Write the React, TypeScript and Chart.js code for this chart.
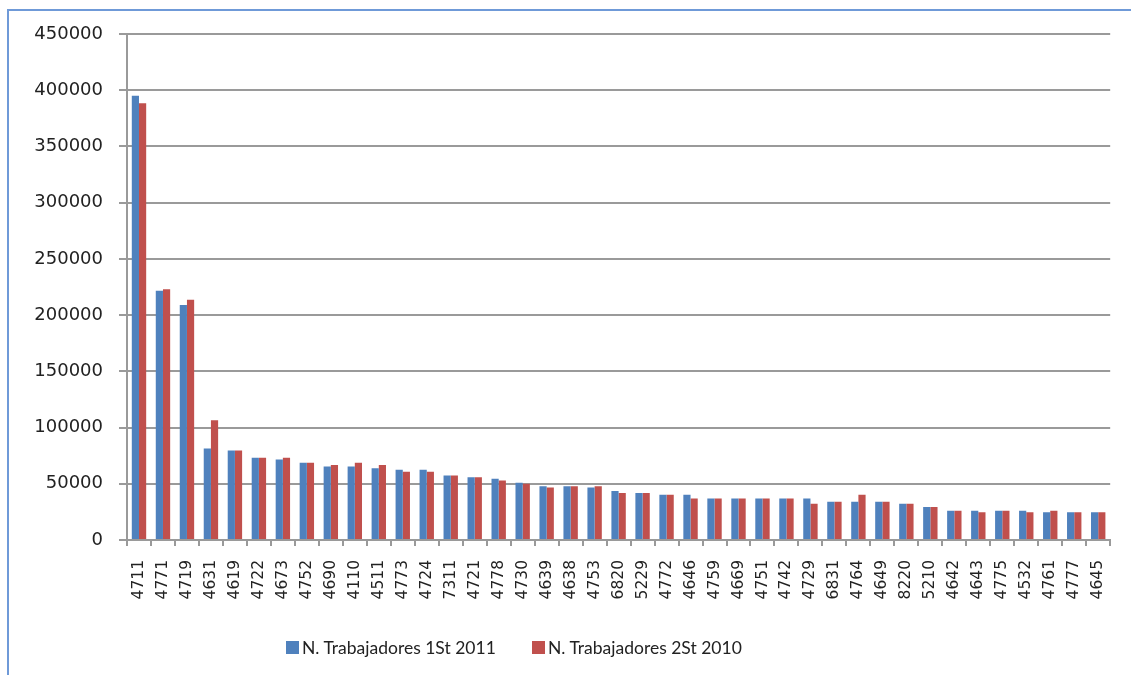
import React, { useEffect, useRef } from "react";
import { Chart, registerables } from "chart.js";

Chart.register(...registerables);

const categories = ["4711","4771","4719","4631","4619","4722","4673","4752","4690","4110","4511","4773","4724","7311","4721","4778","4730","4639","4638","4753","6820","5229","4772","4646","4759","4669","4751","4742","4729","6831","4764","4649","8220","5210","4642","4643","4775","4532","4761","4777","4645"];

const series2011 = [395000,221600,208900,81400,79600,73100,71600,68600,65400,65400,63900,62400,62400,57400,55900,54400,50900,47900,47900,46700,43500,41700,40200,40200,37000,37000,37000,37000,37000,34000,34000,34000,32200,29300,26000,26000,26000,26000,24600,24600,24600];

const series2010 = [388500,223100,213600,106500,79600,73100,73100,68600,66800,68600,66800,60600,60600,57400,55900,53000,50000,46700,47900,47900,41700,41700,40200,37000,37000,37000,37000,37000,32200,34000,40200,34000,32200,29300,26000,24600,26000,24600,26000,24600,24600];

const seriesNames = ["N. Trabajadores 1St 2011", "N. Trabajadores 2St 2010"];
const seriesColors = ["#4F81BD", "#C0504D"];

const yMin = 0;
const yMax = 450000;
const yStep = 50000;

export default function App() {
  const canvasRef = useRef<HTMLCanvasElement | null>(null);

  useEffect(() => {
    const canvas = canvasRef.current;
    if (!canvas) return;
    const chart = new Chart(canvas, {
      type: "bar",
      data: {
        labels: categories,
        datasets: [
          { label: seriesNames[0], data: series2011, backgroundColor: seriesColors[0], borderWidth: 0 },
          { label: seriesNames[1], data: series2010, backgroundColor: seriesColors[1], borderWidth: 0 },
        ],
      },
      options: {
        responsive: false,
        animation: false,
        devicePixelRatio: 1,
        layout: { padding: { top: 34, right: 16, left: 0, bottom: 0 } },
        datasets: { bar: { barPercentage: 1, categoryPercentage: 0.6 } },
        plugins: {
          legend: { display: false },
          tooltip: { enabled: false },
        },
        scales: {
          x: {
            offset: true,
            grid: {
              display: true,
              offset: true,
              drawOnChartArea: false,
              drawTicks: true,
              tickLength: 6,
              color: "#9a9a9a",
              lineWidth: 2,
            },
            border: { display: true, color: "#9a9a9a", width: 2 },
            ticks: {
              autoSkip: false,
              minRotation: 90,
              maxRotation: 90,
              padding: 14,
              color: "#222",
              font: { family: "'DejaVu Sans'", size: 15.5 },
            },
            afterFit: (scale: any) => {
              scale.height = 135;
            },
          },
          y: {
            min: yMin,
            max: yMax,
            grid: {
              color: "#9a9a9a",
              lineWidth: 2,
              drawTicks: true,
              tickLength: 8,
            },
            border: { display: true, color: "#9a9a9a", width: 2 },
            ticks: {
              stepSize: yStep,
              padding: 16,
              color: "#222",
              font: { family: "'DejaVu Sans'", size: 18 },
              callback: (v: any) => String(v),
            },
            afterFit: (scale: any) => {
              scale.width = 127;
            },
          },
        },
      },
    });
    return () => chart.destroy();
  }, []);

  const legendFont = "Lato, 'Open Sans', sans-serif";

  return (
    <div style={{ position: "fixed", left: 0, top: 0, width: 1131, height: 675, overflow: "hidden", background: "#fff" }}>
      <div
        style={{
          position: "absolute",
          left: 7,
          top: 9,
          width: 1300,
          height: 800,
          borderLeft: "2px solid #6f9ad8",
          borderTop: "2px solid #6f9ad8",
        }}
      />
      <canvas ref={canvasRef} width={1131} height={675} style={{ position: "absolute", left: 0, top: 0, width: 1131, height: 675 }} />
      {seriesNames.map((name, i) => (
        <div
          key={name}
          style={{
            position: "absolute",
            left: i === 0 ? 286 : 532,
            top: 636,
            height: 22,
            display: "flex",
            alignItems: "center",
            fontFamily: legendFont,
            fontSize: 17.5,
            color: "#222",
            whiteSpace: "nowrap",
          }}
        >
          <span style={{ display: "inline-block", width: 13, height: 13, background: seriesColors[i], marginRight: 3 }} />
          <span>{name}</span>
        </div>
      ))}
    </div>
  );
}
